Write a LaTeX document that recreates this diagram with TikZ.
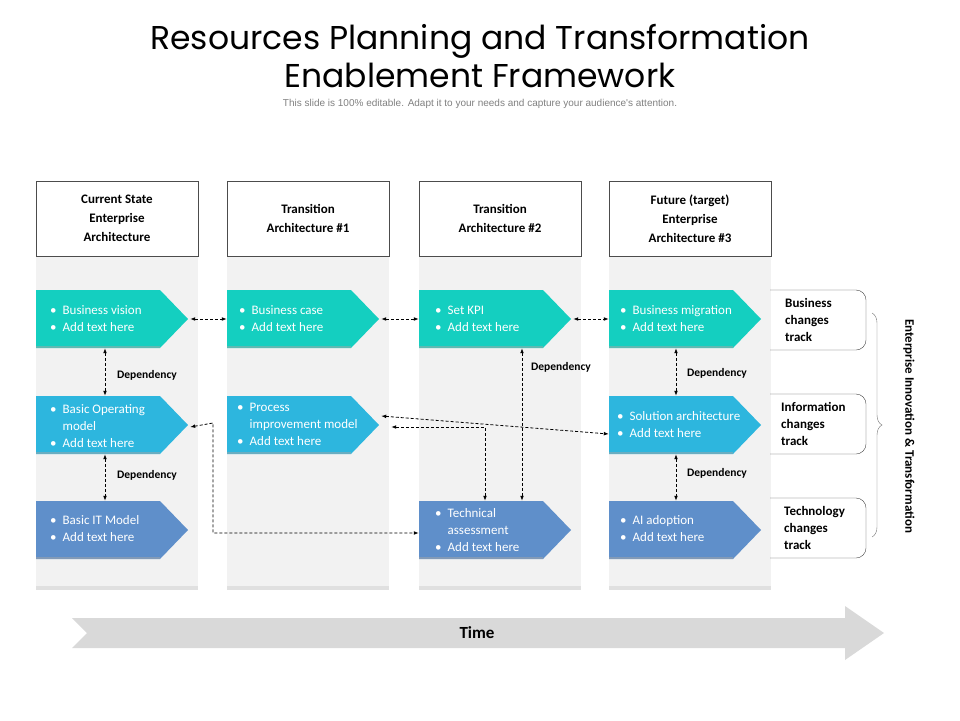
\documentclass[tikz,border=0pt]{standalone}
\usepackage{fontspec}
\setmainfont{Carlito}
\newfontfamily\titlefont{Poppins}
\newfontfamily\subfont{Liberation Sans}
\usetikzlibrary{arrows.meta,decorations.pathreplacing}
\definecolor{teal1}{HTML}{14CFC0}
\definecolor{blue1}{HTML}{2DB6DE}
\definecolor{steel1}{HTML}{5F8FCA}
\definecolor{colbg}{HTML}{F2F2F2}
\definecolor{timeg}{HTML}{D9D9D9}
\tikzset{
 x=1pt,y=-1pt,
 hdr/.style={draw=black!70,fill=white,minimum width=162,minimum height=75,inner sep=0,align=center,font=\fontsize{13}{19}\selectfont\bfseries},
 arr/.style={minimum width=152,minimum height=58,inner sep=0,draw=none},
 btxt/.style={anchor=west,align=left,text=white,font=\fontsize{13}{17}\selectfont,inner sep=0},
 dep/.style={densely dashed,thick,{Latex[length=5pt]}-{Latex[length=5pt]}},
 deplbl/.style={anchor=west,font=\fontsize{11.5}{13}\selectfont\bfseries,inner sep=0},
 track/.style={anchor=west,align=left,font=\fontsize{13}{17}\selectfont\bfseries,inner sep=0},
}
\newcommand{\bl}{\textbullet\hspace{6pt}}
% \abox{name}{left x}{center y}{colour}
\newcommand{\abox}[4]{%
 \fill[#4] (#2,#3-29) -- ++(124,0) -- ++(28,29) -- ++(-28,29) -- ++(-124,0) -- cycle;
 \fill[black!35,opacity=0.5] (#2,#3+27) rectangle ++(124,2);
 \node[arr] (#1) at (#2+76,#3) {};}
\begin{document}
\begin{tikzpicture}
\useasboundingbox (0,0) rectangle (960,720);
\node[font=\titlefont\fontsize{33}{38}\selectfont,align=center] (title) at (480,56) {Resources Planning and Transformation\\Enablement Framework};
\node[font=\subfont\fontsize{10}{12}\selectfont,text=black!50] (sub) at (480,104) {This slide is 100\% editable. Adapt it to your needs and capture your audience's attention.};
% columns
\foreach \x in {36,227,419,609}{
 \fill[colbg] (\x,256) rectangle ++(162,334);
 \fill[black!12] (\x,586) rectangle ++(162,4);
}
\node[hdr] (h1) at (117,218.5) {Current State\\Enterprise\\Architecture};
\node[hdr] (h2) at (308,218.5) {Transition\\Architecture \#1};
\node[hdr] (h3) at (500,218.5) {Transition\\Architecture \#2};
\node[hdr] (h4) at (690,218.5) {Future (target)\\Enterprise\\Architecture \#3};
% arrow boxes
\abox{a1}{36}{319}{teal1}
\abox{a2}{227}{319}{teal1}
\abox{a3}{419}{319}{teal1}
\abox{a4}{609}{319}{teal1}
\abox{b1}{36}{425}{blue1}
\abox{b2}{227}{425}{blue1}
\abox{b4}{609}{425}{blue1}
\abox{c1}{36}{530}{steel1}
\abox{c3}{419}{530}{steel1}
\abox{c4}{609}{530}{steel1}
\node[btxt] (ta1) at (50,319) {\bl Business vision\\\bl Add text here};
\node[btxt] (ta2) at (239,319) {\bl Business case\\\bl Add text here};
\node[btxt] (ta3) at (435,319) {\bl Set KPI\\\bl Add text here};
\node[btxt] (ta4) at (620,319) {\bl Business migration\\\bl Add text here};
\node[btxt] (tb1) at (50,426) {\bl Basic Operating\\\hphantom{\bl}model\\\bl Add text here};
\node[btxt] (tb2) at (237,424) {\bl Process\\\hphantom{\bl}improvement model\\\bl Add text here};
\node[btxt] (tb4) at (617,425) {\bl Solution architecture\\\bl Add text here};
\node[btxt] (tc1) at (50,529) {\bl Basic IT Model\\\bl Add text here};
\node[btxt] (tc3) at (435,530) {\bl Technical\\\hphantom{\bl}assessment\\\bl Add text here};
\node[btxt] (tc4) at (620,529) {\bl AI adoption\\\bl Add text here};
% connectors
\draw[dep] ([xshift=2]a1.east) -- (a2.west);
\draw[dep] ([xshift=2]a2.east) -- (a3.west);
\draw[dep] ([xshift=2]a3.east) -- (a4.west);
\draw[dep] ([xshift=-7]a1.south) -- ([xshift=-7]b1.north);
\draw[dep] ([xshift=-7]b1.south) -- ([xshift=-7]c1.north);
\draw[dep] ([xshift=-9]a4.south) -- ([xshift=-9]b4.north);
\draw[dep] ([xshift=-9]b4.south) -- ([xshift=-9]c4.north);
\draw[dep] ([xshift=27]a3.south) -- ([xshift=27]c3.north);
\draw[dep] ([shift={(2,-9)}]b2.east) -- ([yshift=-9]b4.west);
\coordinate (k1) at (485,427);
\draw[dep] ([shift={(12,2)}]b2.east) -- (k1) -- (k1 |- c3.north);
\coordinate (k2) at (213,423);
\coordinate (k3) at (213,533);
\draw[dep] ([xshift=2,yshift=-2]b1.east) -- (k2) -- (k3) -- (k3 -| c3.west);
\node[deplbl] (d1) at (117,375) {Dependency};
\node[deplbl] (d2) at (117,475) {Dependency};
\node[deplbl] (d3) at (531,367) {Dependency};
\node[deplbl] (d4) at (687,373) {Dependency};
\node[deplbl] (d5) at (687,473) {Dependency};
% tracks
\foreach \y in {290,394,498}{
 \draw[black!75,rounded corners=10] (770,\y) -- (866,\y) -- (866,\y+60) -- (770,\y+60);
}
\node[track] (tr1) at (785,320) {Business\\changes\\track};
\node[track] (tr2) at (781,424) {Information\\changes\\track};
\node[track] (tr3) at (784,528) {Technology\\changes\\track};
\draw[black!55,decorate,decoration={brace,amplitude=10pt}] (872,313) -- (872,537);
\node[rotate=-90,font=\fontsize{13}{15}\selectfont\bfseries] (eit) at (909,426) {Enterprise Innovation \& Transformation};
% time
\fill[timeg] (72,618) -- (845,618) -- (845,606) -- (884,633) -- (845,660) -- (845,648) -- (72,648) -- (87,633) -- cycle;
\node[font=\fontsize{17}{19}\selectfont\bfseries] (time) at (477,633) {Time};
\end{tikzpicture}
\end{document}
